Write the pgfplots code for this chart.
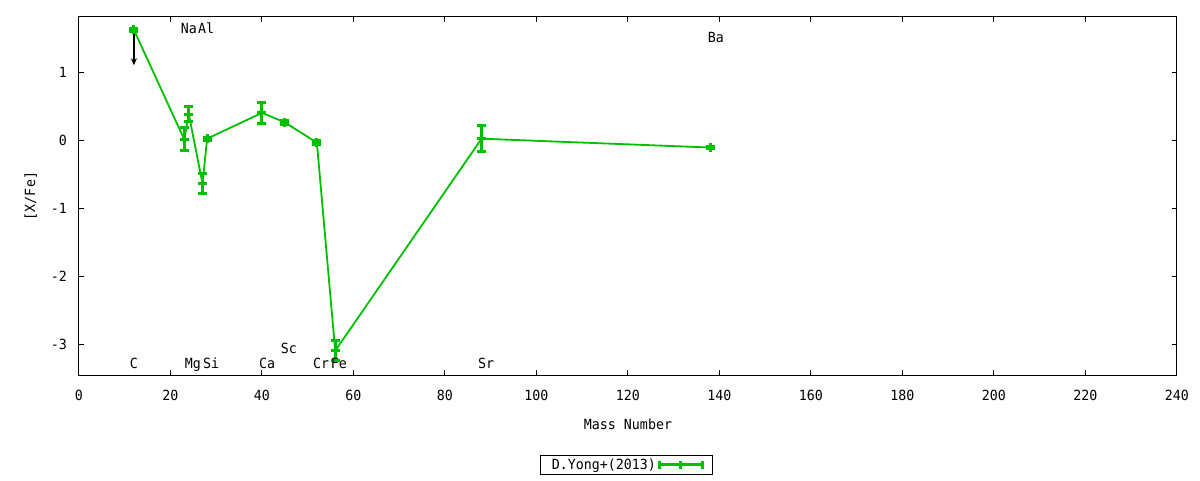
\documentclass[border=0pt]{standalone}
\usepackage{fontspec}
\setmainfont{DejaVu Sans Mono}[FakeStretch=0.95]
\usepackage{pgfplots}
\usepackage{pgfplotstable}
\pgfplotsset{compat=1.18}
\usetikzlibrary{arrows.meta}

\definecolor{gpgreen}{RGB}{0,192,0}

% element abundances, D.Yong+(2013)
\pgfplotstableread{
x    y     e
12   1.62  0.02
23   0.01  0.17
24   0.38  0.11
27  -0.64  0.15
28   0.02  0.02
40   0.40  0.15
45   0.26  0.03
52  -0.04  0.03
56  -3.10  0.15
88   0.02  0.19
138 -0.11  0.02
}\yongdata

% upper limit for C
\pgfplotstableread{
x   y    u  v
12  1.60 0  -0.50
}\climit

\begin{document}
\begin{tikzpicture}[font=\fontsize{14}{16}\selectfont]
\useasboundingbox (-79pt,-105pt) rectangle (1121pt,375pt);
\begin{axis}[
    at={(0pt,0pt)}, anchor=south west,
    scale only axis,
    width=1098pt, height=358pt,
    xmin=0, xmax=240,
    ymin=-3.456, ymax=1.81,
    xtick={0,20,...,240},
    xticklabels={0,20,40,60,80,100,120,140,160,180,200,220,240},
    ytick={-3,-2,-1,0,1},
    yticklabels={-3,-2,-1,0,1},
    minor tick num=0,
    tick align=inside,
    major tick length=5pt,
    tick style={black, line width=1pt},
    axis line style={line width=1pt},
    xticklabel style={anchor=center, inner sep=0pt, yshift=-20pt},
    yticklabel style={anchor=east, inner sep=0pt, xshift=-12pt},
    xlabel={Mass Number},
    ylabel={[X/Fe]},
    xlabel style={at={(axis description cs:0.5,-0.137)}, anchor=center, inner sep=0pt},
    ylabel style={at={(axis description cs:-0.044,0.5)}, anchor=center, inner sep=0pt},
    legend plot pos=right,
    legend style={at={(0.499,-0.251)}, anchor=center, draw=black, line width=1pt,
        inner xsep=9pt, inner ysep=1.5pt},
    legend image code/.code={
        \draw[gpgreen, line width=3pt] (0pt,0pt) -- (43pt,0pt);
        \draw[gpgreen, line width=3pt] (0pt,-4pt) -- (0pt,4pt) (43pt,-4pt) -- (43pt,4pt)
            (21.5pt,-4pt) -- (21.5pt,4pt);
    },
]
\addplot[black, line width=2pt, -{Stealth[length=7pt,width=6pt]}, forget plot,
    quiver={u=\thisrow{u}, v=\thisrow{v}}] table[x=x, y=y] {\climit};

\addplot[gpgreen, line width=1.8pt, mark=+, mark size=4.5pt,
    mark options={line width=3pt},
    error bars/.cd, y dir=both, y explicit,
    error bar style={line width=3pt},
    error mark options={rotate=90, line width=3pt, mark size=4.5pt}]
    table[x=x, y=y, y error=e] {\yongdata};
\addlegendentry{D.Yong+(2013)\hspace{5pt}}

\begin{scope}[every node/.style={anchor=base, inner sep=0pt}]
\node at (axis cs:12.0,-3.353) {C};
\node at (axis cs:24.0,1.574) {Na};
\node at (axis cs:27.8,1.574) {Al};
\node at (axis cs:24.9,-3.353) {Mg};
\node at (axis cs:28.9,-3.353) {Si};
\node at (axis cs:41.1,-3.353) {Ca};
\node at (axis cs:45.9,-3.147) {Sc};
\node at (axis cs:52.9,-3.353) {Cr};
\node at (axis cs:56.8,-3.353) {Fe};
\node at (axis cs:89.0,-3.353) {Sr};
\node at (axis cs:139.2,1.441) {Ba};
\end{scope}
\end{axis}
\end{tikzpicture}
\end{document}
